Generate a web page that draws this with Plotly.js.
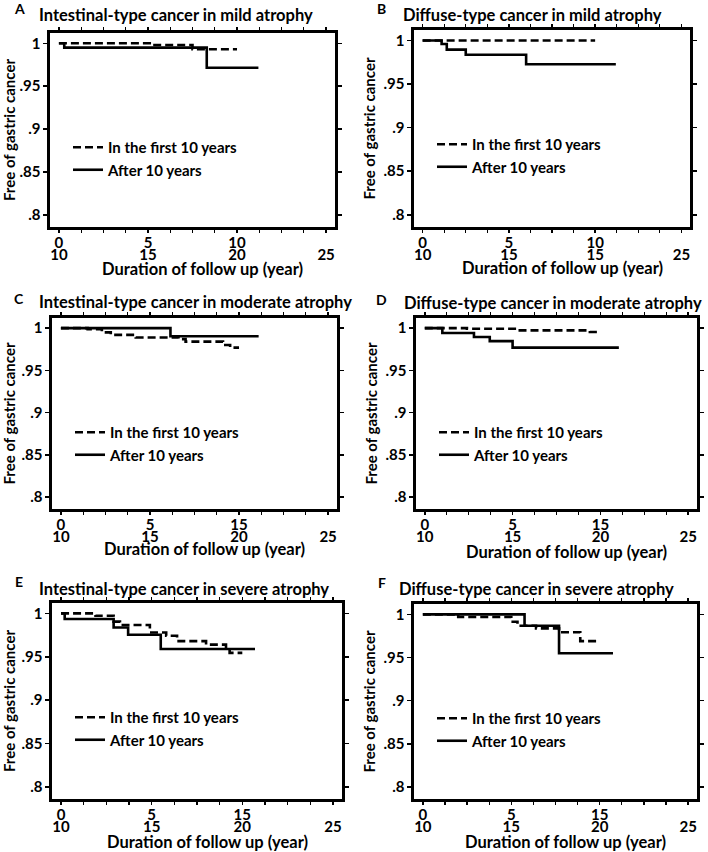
<!DOCTYPE html>
<html><head><meta charset="utf-8">
<script src="https://cdn.plot.ly/plotly-3.0.1.min.js"></script>
<style>body{margin:0;background:#fff}#chart{width:708px;height:852px}</style>
</head><body><div id="chart"></div>
<script>
// ---------------- data ----------------
const panelLetters = ['A', 'B', 'C', 'D', 'E', 'F'];
const panelTitles = [
  'Intestinal-type cancer in mild atrophy',
  'Diffuse-type cancer in mild atrophy',
  'Intestinal-type cancer in moderate atrophy',
  'Diffuse-type cancer in moderate atrophy',
  'Intestinal-type cancer in severe atrophy',
  'Diffuse-type cancer in severe atrophy'
];
const seriesNames = ['In the first 10 years', 'After 10 years'];
const xTickVals = [0, 5, 10, 15];
const xTopLabels = [
  ['0', '5', '10', ''], ['0', '5', '10', ''], ['0', '5', '15', ''],
  ['0', '5', '15', ''], ['0', '5', '15', ''], ['0', '5', '15', '']
];
const xBottomLabels = [
  ['10', '15', '20', '25'], ['10', '15', '15', '25'], ['10', '15', '20', '25'],
  ['10', '15', '20', '25'], ['10', '15', '20', '25'], ['10', '15', '20', '25']
];
const yTickVals = [0.8, 0.85, 0.9, 0.95, 1];
const yTickLabels = ['.8', '.85', '.9', '.95', '1'];
const xTitle = 'Duration of follow up (year)';
const yTitle = 'Free of gastric cancer';

// Panel A
const aFirstX = [0, 5.1, 7.5, 10];
const aFirstY = [1, 0.998, 0.993, 0.993];
const aAfterX = [0, 0.3, 8.3, 11.2];
const aAfterY = [1, 0.995, 0.9715, 0.9715];
// Panel B
const bFirstX = [0, 10];
const bFirstY = [1, 1];
const bAfterX = [0, 1.1, 1.4, 2.5, 6.0, 11.2];
const bAfterY = [1, 0.996, 0.9895, 0.9836, 0.9727, 0.9727];
// Panel C
const cFirstX = [0, 1.5, 2.3, 2.8, 4.2, 6.6, 7.0, 9.1, 9.5, 10];
const cFirstY = [1, 0.9988, 0.995, 0.992, 0.989, 0.987, 0.984, 0.980, 0.977, 0.977];
const cAfterX = [0, 6.15, 11.1];
const cAfterY = [1, 0.9904, 0.9904];
// Panel D
const dFirstX = [0, 2.4, 5.2, 9.4, 10];
const dFirstY = [1, 0.9992, 0.9973, 0.9954, 0.9954];
const dAfterX = [0, 1.0, 2.8, 3.7, 5.0, 11.05];
const dAfterY = [1, 0.9942, 0.9896, 0.9846, 0.9769, 0.9769];
// Panel E
const eFirstX = [0, 1.9, 2.9, 3.25, 4.9, 5.8, 6.4, 8.0, 9.1, 9.3, 10];
const eFirstY = [1, 0.9973, 0.9905, 0.9867, 0.978, 0.9742, 0.968, 0.964, 0.958, 0.9545, 0.9545];
const eAfterX = [0, 0.2, 2.9, 3.7, 5.5, 10.7];
const eAfterY = [1, 0.9936, 0.9837, 0.9754, 0.959, 0.959];
// Panel F
const fFirstX = [0, 2.0, 5.0, 5.35, 6.4, 7.7, 8.9, 10];
const fFirstY = [1, 0.997, 0.9914, 0.9868, 0.9838, 0.9793, 0.969, 0.969];
const fAfterX = [0, 5.75, 7.7, 10.75];
const fAfterY = [1, 0.9868, 0.9549, 0.9549];

const firstSeries = [[aFirstX, aFirstY], [bFirstX, bFirstY], [cFirstX, cFirstY], [dFirstX, dFirstY], [eFirstX, eFirstY], [fFirstX, fFirstY]];
const afterSeries = [[aAfterX, aAfterY], [bAfterX, bAfterY], [cAfterX, cAfterY], [dAfterX, dAfterY], [eAfterX, eAfterY], [fAfterX, fAfterY]];

// ---------------- layout (positions/styles) ----------------
const W = 708, H = 852;
const frames = [ // [left, right, top, bottom] in px
  [50, 335, 33, 227], [414, 690, 30, 227],
  [52, 337, 318, 509], [416, 697, 318, 509],
  [52, 342, 603, 799], [414, 697, 604, 799]
];
const letterPos = [[12, 8], [375, 8], [12, 298], [374, 299], [13, 581], [376, 582]];
const titlePos = [[37, 15], [401, 15], [37, 302], [402, 303], [37, 589], [397, 589]];
const xTitleY = [269, 268, 549, 552, 842, 842];
const FONT = 'Lato, "Open Sans", sans-serif';
const traces = [];
const layout = {
  width: W, height: H,
  margin: {l: 0, r: 0, t: 0, b: 0},
  paper_bgcolor: '#fff', plot_bgcolor: '#fff',
  font: {family: FONT, size: 14, color: '#000', weight: 'bold'},
  annotations: [],
  showlegend: true
};
const px = v => v / W, py = v => 1 - v / H;

frames.forEach((f, i) => {
  const n = i + 1;
  const sfx = n === 1 ? '' : String(n);
  const xa = 'xaxis' + sfx, ya = 'yaxis' + sfx;
  const xr = 'x' + sfx, yr = 'y' + sfx;
  const ox = 'x' + (n + 6), oxa = 'xaxis' + (n + 6);
  const lg = 'legend' + sfx;
  const [l, r, t, b] = f;
  traces.push({
    x: firstSeries[i][0], y: firstSeries[i][1], xaxis: xr, yaxis: yr,
    type: 'scatter', mode: 'lines', name: seriesNames[0], legend: lg,
    line: {shape: 'hv', color: '#000', width: 2.6, dash: '8px,4px'}, hoverinfo: 'skip'
  });
  traces.push({
    x: afterSeries[i][0], y: afterSeries[i][1], xaxis: xr, yaxis: yr,
    type: 'scatter', mode: 'lines', name: seriesNames[1], legend: lg,
    line: {shape: 'hv', color: '#000', width: 2.6}, hoverinfo: 'skip'
  });
  // empty trace to carry the second row of x tick labels
  traces.push({x: [], y: [], xaxis: ox, yaxis: yr, type: 'scatter', mode: 'lines', showlegend: false, hoverinfo: 'skip'});
  layout[xa] = {
    domain: [px(l), px(r)], anchor: yr, range: [-0.5, 15.5],
    tickvals: xTickVals, ticktext: xTopLabels[i],
    ticks: 'outside', ticklen: 3, tickwidth: 1.5, tickcolor: '#000',
    ticklabelstandoff: -3,
    minor: {dtick: 1.25, tick0: 0, ticks: 'outside', ticklen: 3, tickwidth: 1.2, tickcolor: '#000', showgrid: false},
    showline: true, linewidth: 2.6, linecolor: '#000', mirror: 'allticks',
    showgrid: false, zeroline: false, fixedrange: true,
    tickfont: {size: 15, family: FONT, weight: 'bold'}
  };
  layout[oxa] = {
    overlaying: xr, anchor: yr, side: 'bottom', range: [-0.5, 15.5],
    tickvals: xTickVals, ticktext: xBottomLabels[i],
    ticks: 'outside', ticklen: 14, tickcolor: 'rgba(0,0,0,0)',
    showline: false, showgrid: false, zeroline: false, fixedrange: true,
    tickfont: {size: 15, family: FONT, weight: 'bold'}
  };
  layout[ya] = {
    domain: [py(b), py(t)], anchor: xr, range: [0.786, 1.012],
    tickvals: yTickVals, ticktext: yTickLabels,
    ticks: 'outside', ticklen: 4, tickwidth: 1.5, tickcolor: '#000',
    showline: true, linewidth: 2.6, linecolor: '#000', mirror: 'allticks',
    showgrid: false, zeroline: false, fixedrange: true,
    tickfont: {size: 15, family: FONT, weight: 'bold'},
    title: {text: yTitle, font: {size: 15, family: FONT, weight: 'bold'}, standoff: 4}
  };
  layout[lg] = {
    x: px(l + 18), y: py(t + 98), xanchor: 'left', yanchor: 'top',
    bgcolor: 'rgba(0,0,0,0)', borderwidth: 0, itemwidth: 30,
    font: {size: 15, family: FONT, weight: 'bold', color: '#000'},
    tracegroupgap: 0, itemclick: false, itemdoubleclick: false
  };
  layout.annotations.push({
    text: panelLetters[i], xref: 'paper', yref: 'paper',
    x: px(letterPos[i][0]), y: py(letterPos[i][1]), xanchor: 'left', yanchor: 'middle',
    showarrow: false, font: {size: 14, family: FONT, weight: 'bold'}
  });
  layout.annotations.push({
    text: panelTitles[i], xref: 'paper', yref: 'paper',
    x: px(titlePos[i][0]), y: py(titlePos[i][1]), xanchor: 'left', yanchor: 'middle',
    showarrow: false, font: {size: 16.5, family: FONT, weight: 'bold'}
  });
  layout.annotations.push({
    text: xTitle, xref: 'paper', yref: 'paper',
    x: px((l + r) / 2 + 10), y: py(xTitleY[i]), xanchor: 'center', yanchor: 'middle',
    showarrow: false, font: {size: 16.5, family: FONT, weight: 'bold'}
  });
});

Plotly.newPlot('chart', traces, layout, {staticPlot: true});
</script></body></html>
